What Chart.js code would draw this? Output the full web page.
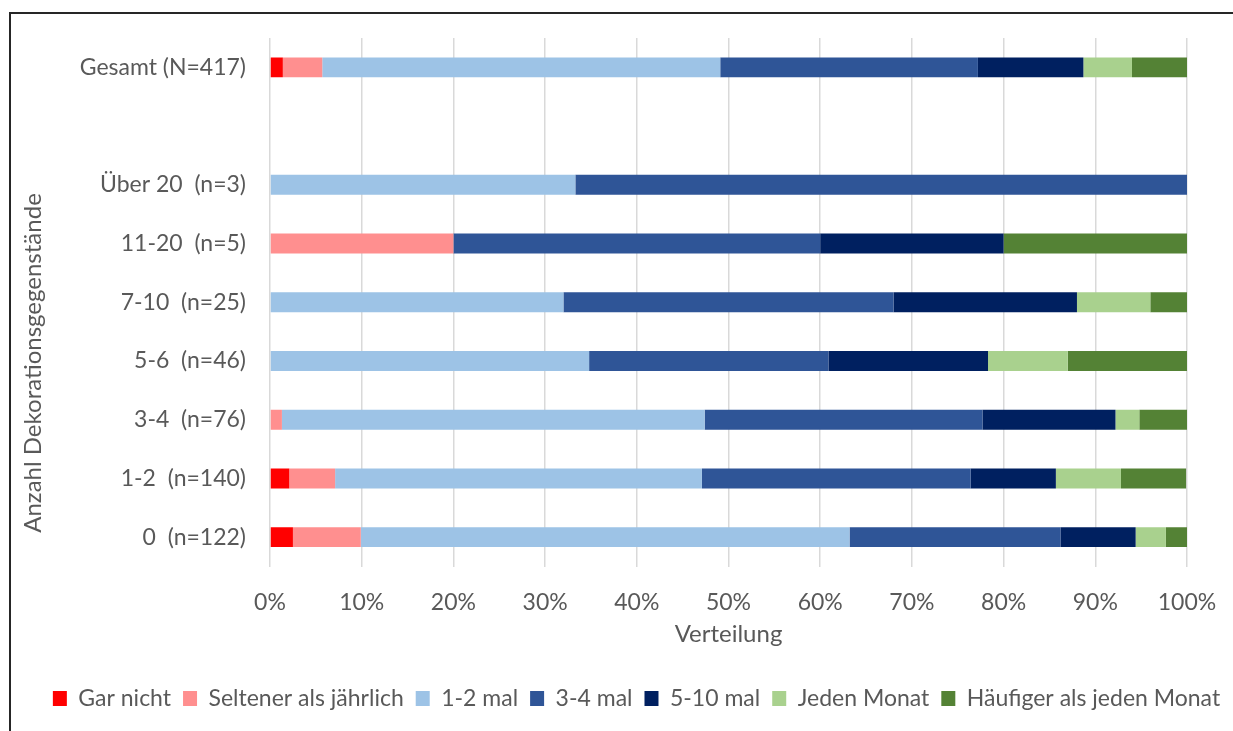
<!DOCTYPE html>
<html lang="de">
<head>
<meta charset="utf-8">
<title>Verteilung nach Anzahl Dekorationsgegenstände</title>
<script src="https://cdn.jsdelivr.net/npm/chart.js@4"></script>
<style>
  html, body { margin: 0; padding: 0; background: #fff; }
  body { width: 1233px; height: 731px; position: relative; overflow: hidden; }
  .frame {
    position: absolute; left: 9px; top: 12px; right: -10px; bottom: -10px;
    border-left: 2.5px solid #262626; border-top: 2.5px solid #262626;
  }
  .wrap { position: absolute; left: 0; top: 0; width: 1233px; height: 731px; }
</style>
</head>
<body>
<div class="frame"></div>
<div class="wrap"><canvas id="chart"></canvas></div>
<script>
// Gruppen (von oben nach unten), leere Zeile trennt Gesamt von den Gruppen
const groups = ['Gesamt (N=417)', '', 'Über 20  (n=3)', '11-20  (n=5)', '7-10  (n=25)', '5-6  (n=46)', '3-4  (n=76)', '1-2  (n=140)', '0  (n=122)'];

const seriesNames = ['Gar nicht', 'Seltener als jährlich', '1-2 mal', '3-4 mal', '5-10 mal', 'Jeden Monat', 'Häufiger als jeden Monat'];
const seriesColors = ['#FF0000', '#FF8F8F', '#9DC3E6', '#2F5597', '#002060', '#A9D18E', '#548235'];

// Anteile in %
const garNicht   = [1.4, null, 0,    0,  0,    0,    0,    2.1,  2.5];
const seltener   = [4.3, null, 0,    20, 0,    0,    1.3,  5.0,  7.4];
const mal12      = [43.4, null, 33.3, 0,  32,   34.8, 46.1, 40.0, 53.3];
const mal34      = [28.1, null, 66.7, 40, 36,   26.1, 30.3, 29.3, 23.0];
const mal510     = [11.5, null, 0,    20, 20,   17.4, 14.5, 9.3,  8.2];
const jedenMonat = [5.3, null, 0,    0,  8,    8.7,  2.6,  7.1,  3.3];
const haeufiger  = [6.0, null, 0,    20, 4,    13.0, 5.3,  7.1,  2.5];

const xTicks = [0, 10, 20, 30, 40, 50, 60, 70, 80, 90, 100];

const seriesValues = [garNicht, seltener, mal12, mal34, mal510, jedenMonat, haeufiger];

const textColor = '#595959';
const fontFamily = 'Lato, "Open Sans", sans-serif';

const datasets = seriesNames.map((name, i) => ({
  label: name,
  data: seriesValues[i],
  backgroundColor: seriesColors[i],
  borderWidth: 0,
  barPercentage: 0.34,
  categoryPercentage: 1.0
}));

// y-Achsentitel frei positioniert
const yTitle = {
  id: 'yTitle',
  afterDraw(chart) {
    const ctx = chart.ctx;
    ctx.save();
    ctx.translate(33, 363);
    ctx.rotate(-Math.PI / 2);
    ctx.font = '24px ' + fontFamily;
    ctx.fillStyle = textColor;
    ctx.textAlign = 'center';
    ctx.textBaseline = 'middle';
    ctx.fillText('Anzahl Dekorationsgegenstände', 0, 0);
    ctx.restore();
  }
};

Chart.defaults.font.family = fontFamily;
Chart.defaults.color = textColor;

new Chart(document.getElementById('chart').getContext('2d'), {
  type: 'bar',
  data: { labels: groups, datasets },
  plugins: [yTitle],
  options: {
    indexAxis: 'y',
    responsive: true,
    maintainAspectRatio: false,
    animation: false,
    // links/rechts so gewählt, dass die Legende mittig unter dem Bild sitzt
    layout: { padding: { left: 40, top: 38, right: 0, bottom: 11 } },
    scales: {
      x: {
        stacked: true,
        min: 0,
        max: 100,
        afterBuildTicks: (scale) => { scale.ticks = xTicks.map(v => ({ value: v })); },
        afterFit: (scale) => {
          scale.height = 108.5;
          scale.paddingLeft = 0;
          scale.paddingRight = 0;
        },
        grid: { color: '#D9D9D9', lineWidth: 1.5, drawTicks: false },
        border: { display: false },
        ticks: {
          padding: 22,
          color: textColor,
          font: { size: 23 },
          callback: (v) => v + '%'
        },
        title: {
          display: true,
          text: 'Verteilung',
          color: textColor,
          font: { size: 24 },
          padding: { top: 0, bottom: 26 }
        }
      },
      y: {
        stacked: true,
        afterFit: (scale) => { scale.width = 230; },
        grid: { display: false, drawTicks: false },
        border: { display: false },
        ticks: {
          padding: 24,
          color: textColor,
          font: { size: 23 },
          autoSkip: false
        }
      },
      // leerer Rand rechts vom Diagramm
      yRight: {
        axis: 'y',
        type: 'linear',
        position: 'right',
        afterFit: (scale) => { scale.width = 46; },
        grid: { display: false, drawTicks: false },
        border: { display: false },
        ticks: { display: false }
      }
    },
    plugins: {
      legend: {
        position: 'bottom',
        labels: {
          boxWidth: 14,
          boxHeight: 15,
          padding: 12,
          color: textColor,
          font: { size: 23 }
        }
      },
      tooltip: { enabled: false }
    }
  }
});
</script>
</body>
</html>
